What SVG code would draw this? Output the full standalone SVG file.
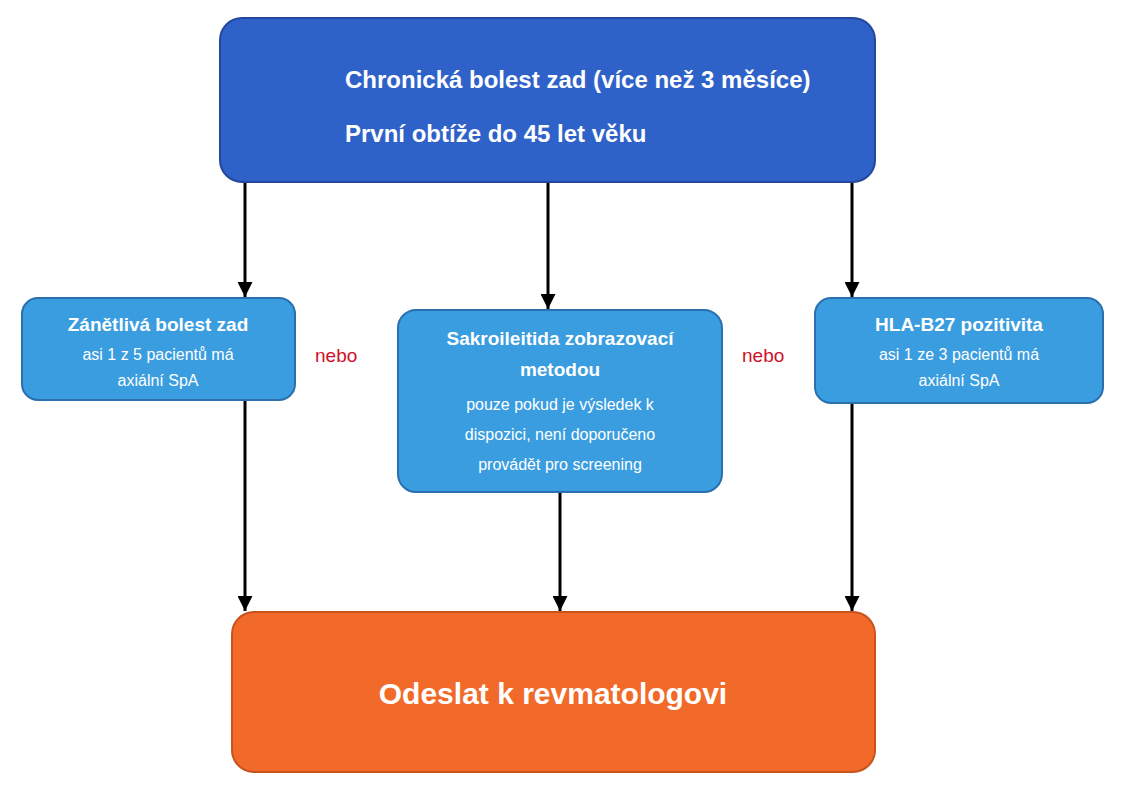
<svg xmlns="http://www.w3.org/2000/svg" width="1123" height="800" viewBox="0 0 1123 800">
<defs>
<marker id="ah" viewBox="0 0 10 10" refX="10" refY="5" markerWidth="5" markerHeight="5" orient="auto"><path d="M0,0 L10,5 L0,10 z" fill="#000"/></marker>
<style>
.t{font-family:"Liberation Sans",Arial,sans-serif;fill:#fff}
.b{font-weight:bold}
.lb{fill:#3a9de0;stroke:#2a6fae;stroke-width:2}
.c{stroke:#000;stroke-width:3;fill:none;marker-end:url(#ah)}
.n{font-family:"Liberation Sans",Arial,sans-serif;fill:#d0102a;font-size:19px}
</style>
</defs>
<rect width="1123" height="800" fill="#fff"/>
<g id="connectors">
<line class="c" x1="245" y1="182" x2="245" y2="297"/>
<line class="c" x1="548" y1="182" x2="548" y2="309"/>
<line class="c" x1="852" y1="182" x2="852" y2="297"/>
<line class="c" x1="245" y1="400" x2="245" y2="611"/>
<line class="c" x1="560" y1="492" x2="560" y2="611"/>
<line class="c" x1="852" y1="403" x2="852" y2="611"/>
</g>
<g id="top">
<rect x="220" y="18" width="655" height="164" rx="22" fill="#2f62c9" stroke="#23479a" stroke-width="2"/>
<text class="t b" x="345" y="88" font-size="24">Chronická bolest zad (více než 3 měsíce)</text>
<text class="t b" x="345" y="142" font-size="24">První obtíže do 45 let věku</text>
</g>
<g id="left">
<rect class="lb" x="22" y="298" width="273" height="102" rx="16"/>
<text class="t b" x="158" y="331" font-size="19" text-anchor="middle">Zánětlivá bolest zad</text>
<text class="t" x="158" y="360" font-size="16" text-anchor="middle">asi 1 z 5 pacientů má</text>
<text class="t" x="158" y="386" font-size="16" text-anchor="middle">axiální SpA</text>
</g>
<g id="middle">
<rect class="lb" x="398" y="310" width="324" height="182" rx="18"/>
<text class="t b" x="560" y="345" font-size="19" text-anchor="middle">Sakroileitida zobrazovací</text>
<text class="t b" x="560" y="376" font-size="19" text-anchor="middle">metodou</text>
<text class="t" x="560" y="410" font-size="16" text-anchor="middle">pouze pokud je výsledek k</text>
<text class="t" x="560" y="440" font-size="16" text-anchor="middle">dispozici, není doporučeno</text>
<text class="t" x="560" y="470" font-size="16" text-anchor="middle">provádět pro screening</text>
</g>
<g id="right">
<rect class="lb" x="815" y="298" width="288" height="105" rx="16"/>
<text class="t b" x="959" y="331" font-size="19" text-anchor="middle">HLA-B27 pozitivita</text>
<text class="t" x="959" y="360" font-size="16" text-anchor="middle">asi 1 ze 3 pacientů má</text>
<text class="t" x="959" y="386" font-size="16" text-anchor="middle">axiální SpA</text>
</g>
<g id="or1"><text class="n" x="315" y="362">nebo</text></g>
<g id="or2"><text class="n" x="742" y="362">nebo</text></g>
<g id="bottom">
<rect x="232" y="612" width="643" height="160" rx="22" fill="#f26a2a" stroke="#c8531c" stroke-width="2"/>
<text class="t b" x="553" y="704" font-size="30" text-anchor="middle">Odeslat k revmatologovi</text>
</g>
</svg>
